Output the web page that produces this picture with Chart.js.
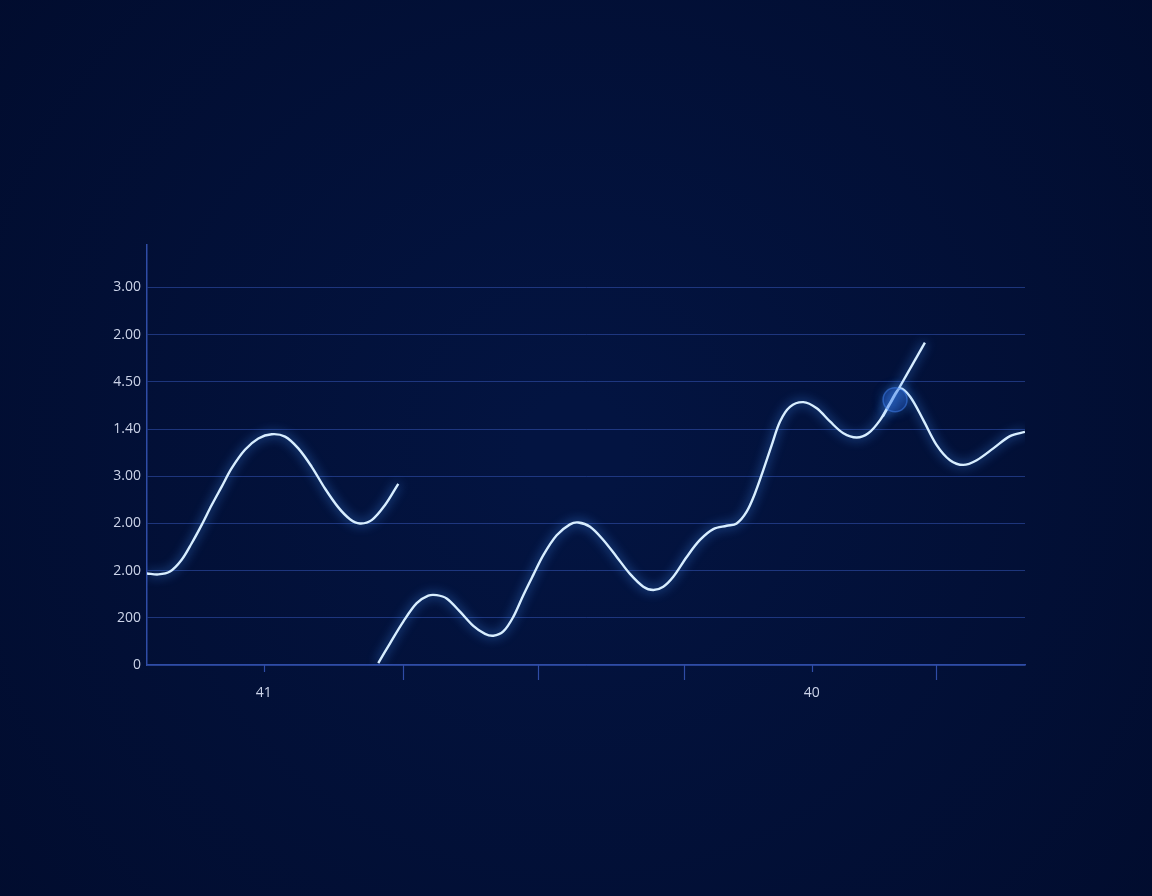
<!DOCTYPE html>
<html>
<head>
<meta charset="utf-8">
<script src="https://cdn.jsdelivr.net/npm/chart.js@4/dist/chart.umd.min.js"></script>
<style>
  html, body { margin: 0; padding: 0; background: #020f34; }
  #wrap { width: 1152px; height: 896px; }
</style>
</head>
<body>
<div id="wrap"><canvas id="myChart"></canvas></div>
<script>
// y ticks: positions 0..8 carry these (odd) labels, bottom to top
const yTickValues = [0, 1, 2, 3, 4, 5, 6, 7, 8];
const yTickLabels = ["0", "200", "2.00", "2.00", "3.00", "1.40", "4.50", "2.00", "3.00"];

// x ticks along a 0-100 axis
const xTickValues = [13.3, 29.2, 44.5, 61.2, 75.7, 89.9];
const xTickLabels = ["41", "", "", "", "40", ""];

// first curve (left piece)
const seriesAX = [0, 1.29, 2.62, 3.95, 5.09, 6.23, 7.37, 8.51, 9.65, 11.16, 12.68, 14.20, 15.72, 17.23, 18.76, 20.27, 21.79, 23.12, 24.26, 25.59, 27.11, 28.62];
const seriesAY = [1.94, 1.92, 1.98, 2.23, 2.58, 2.97, 3.39, 3.78, 4.17, 4.56, 4.80, 4.89, 4.84, 4.59, 4.20, 3.74, 3.34, 3.09, 3.00, 3.07, 3.39, 3.84];

// second curve (long piece)
const seriesBX = [26.34, 27.68, 29.19, 30.72, 32.04, 33.00, 34.13, 35.65, 37.16, 38.50, 39.44, 40.58, 41.72, 42.86, 44.00, 45.14, 46.66, 48.18, 49.12, 50.46, 51.97, 53.50, 55.01, 56.53, 57.67, 58.80, 59.94,
                  61.47, 62.98, 64.50, 66.02, 67.16, 68.30, 69.25, 70.19, 71.15, 72.10, 73.23, 74.75, 76.28, 77.79, 79.31, 80.83, 82.15, 83.49, 84.62, 85.76, 86.90, 88.42, 89.94, 91.46, 92.97, 94.50, 96.39, 98.29, 100];
const seriesBY = [0.04, 0.46, 0.92, 1.31, 1.47, 1.48, 1.41, 1.13, 0.83, 0.66, 0.62, 0.71, 1.02, 1.48, 1.91, 2.33, 2.75, 2.98, 3.02, 2.93, 2.65, 2.29, 1.93, 1.66, 1.59, 1.66, 1.87,
                  2.29, 2.65, 2.88, 2.95, 3.00, 3.25, 3.64, 4.13, 4.66, 5.16, 5.47, 5.57, 5.44, 5.16, 4.91, 4.82, 4.91, 5.19, 5.55, 5.86, 5.69, 5.19, 4.66, 4.34, 4.24, 4.34, 4.59, 4.85, 4.94];

// straight stroke near the right peak
const strokeX = [83.8, 88.6];
const strokeY = [5.26, 6.83];

// highlighted point
const markerX = [85.2];
const markerY = [5.62];

(function () {
  const pts = (xs, ys) => xs.map((x, i) => ({ x: x, y: ys[i] }));
  const lineColor = "#d8eeff";
  const textColor = "rgba(215,222,242,0.95)";

  const bgPlugin = {
    id: "bg",
    beforeDraw(chart) {
      const { ctx, width, height } = chart;
      const g = ctx.createRadialGradient(width / 2, height / 2, 50, width / 2, height / 2, width * 0.75);
      g.addColorStop(0, "#031441");
      g.addColorStop(1, "#010b2b");
      ctx.save();
      ctx.fillStyle = g;
      ctx.fillRect(0, 0, width, height);
      ctx.restore();
    },
  };

  const glowPlugin = {
    id: "glow",
    beforeDatasetsDraw(chart) {
      const ctx = chart.ctx;
      ctx.save();
      ctx.shadowColor = "rgba(70,150,255,0.95)";
      ctx.shadowBlur = 11;
    },
    afterDatasetsDraw(chart) {
      chart.ctx.restore();
    },
  };

  // tick marks under the x axis: short where there is a label, long otherwise
  const xTickMarks = {
    id: "xTickMarks",
    afterDraw(chart) {
      const { ctx, scales } = chart;
      const x = scales.x;
      const y0 = chart.chartArea.bottom;
      ctx.save();
      ctx.strokeStyle = "#2f4ca6";
      ctx.lineWidth = 1.2;
      xTickValues.forEach((v, i) => {
        const px = Math.round(x.getPixelForValue(v)) + 0.5;
        const len = xTickLabels[i] ? 7 : 15;
        ctx.beginPath();
        ctx.moveTo(px, y0);
        ctx.lineTo(px, y0 + len);
        ctx.stroke();
      });
      ctx.restore();
    },
  };

  const lineDs = (label, data, tension) => ({
    label: label,
    data: data,
    showLine: true,
    borderColor: lineColor,
    borderWidth: 2.4,
    pointRadius: 0,
    fill: false,
    tension: tension,
  });

  new Chart(document.getElementById("myChart"), {
    type: "scatter",
    plugins: [bgPlugin, glowPlugin, xTickMarks],
    data: {
      datasets: [
        {
          label: "marker",
          data: pts(markerX, markerY),
          pointRadius: 12,
          pointBackgroundColor: "rgba(35,95,215,0.28)",
          pointBorderColor: "rgba(70,140,255,0.45)",
          pointBorderWidth: 1.5,
          showLine: false,
        },
        lineDs("curve A", pts(seriesAX, seriesAY), 0.33),
        lineDs("curve B", pts(seriesBX, seriesBY), 0.33),
        lineDs("stroke", pts(strokeX, strokeY), 0),
      ],
    },
    options: {
      responsive: true,
      maintainAspectRatio: false,
      animation: false,
      layout: { padding: { left: 0, right: 127, top: 245, bottom: 0 } },
      plugins: {
        legend: { display: false },
        tooltip: { enabled: false },
      },
      scales: {
        x: {
          type: "linear",
          min: 0,
          max: 100,
          afterFit(scale) { scale.height = 231; },
          afterBuildTicks(scale) { scale.ticks = xTickValues.map((v) => ({ value: v })); },
          grid: { display: false },
          border: { display: true, color: "#2f4ca6", width: 1.5 },
          ticks: {
            padding: 12,
            autoSkip: false,
            maxRotation: 0,
            color: textColor,
            font: { family: "Open Sans", size: 14 },
            callback: (v, i) => xTickLabels[i],
          },
        },
        y: {
          type: "linear",
          min: 0,
          max: 8.9,
          afterFit(scale) { scale.width = 147; },
          afterBuildTicks(scale) { scale.ticks = yTickValues.map((v) => ({ value: v })); },
          grid: { color: "rgba(48,78,170,0.6)", lineWidth: 1, drawTicks: false },
          border: { display: true, color: "#2f4ca6", width: 1.5 },
          ticks: {
            padding: 6,
            color: textColor,
            font: { family: "Open Sans", size: 14 },
            callback: (v, i) => yTickLabels[i],
          },
        },
      },
    },
  });
})();
</script>
</body>
</html>
